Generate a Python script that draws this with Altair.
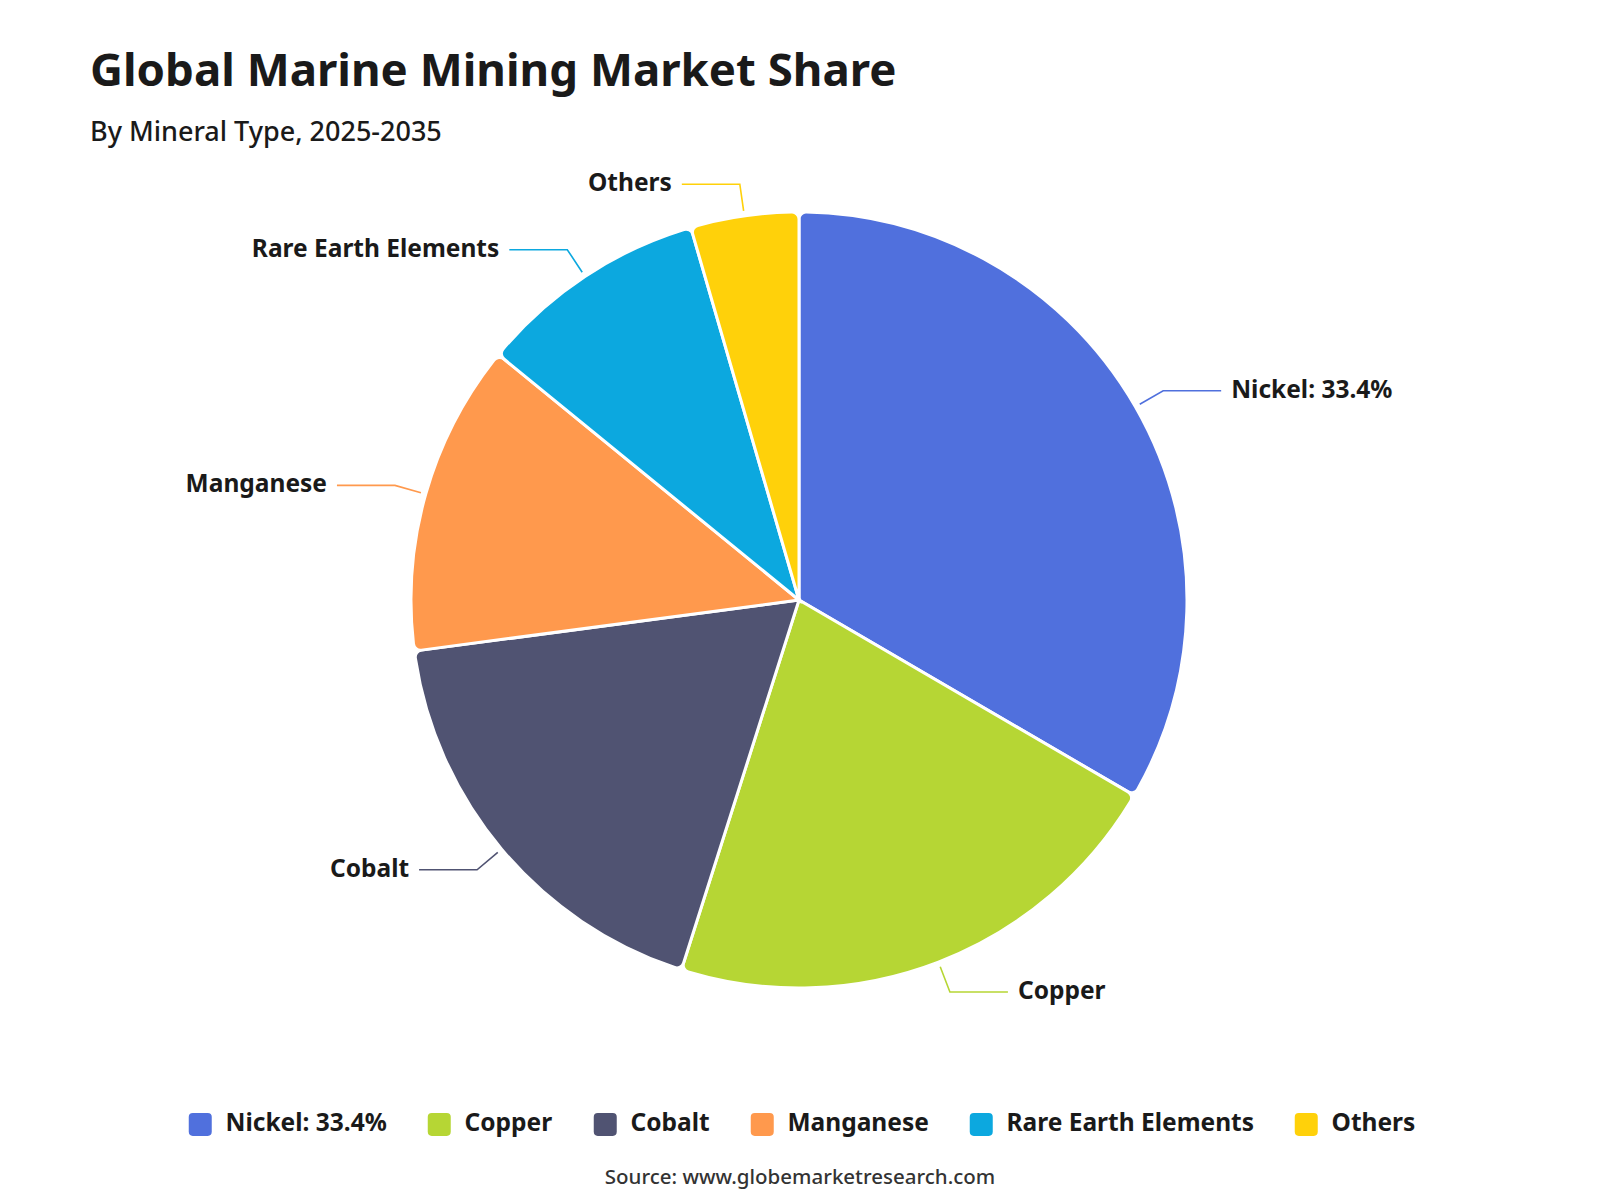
import altair as alt
import pandas as pd
import numpy as np

# ---------------- data ----------------
categories = ["Nickel: 33.4%", "Copper", "Cobalt", "Manganese", "Rare Earth Elements", "Others"]
shares = [33.4, 21.5, 18.0, 13.0, 9.6, 4.5]
colors = ["#5070dd", "#b6d634", "#505372", "#ff994d", "#0ca8df", "#ffd10a"]
title_text = "Global Marine Mining Market Share"
subtitle_text = "By Mineral Type, 2025-2035"
source_text = ["Source: www.globemarketresearch.com"]

# ---------------- layout ----------------
FONT = "Noto Sans"
W, H = 1600, 1200
PAD_TOP = 150
CX, CY = 799, 600 - PAD_TOP
R = 388
R_START, R_ELBOW = 393, 420
H_LEN, TXT_GAP = 58, 10
LABEL_SIZE = 24.5

df = pd.DataFrame({"category": categories, "share": shares, "idx": range(len(categories))})

# leader lines derived from the shares
total = sum(shares)
cum = np.cumsum([0] + shares)
rows, lab = [], []
for i, c in enumerate(categories):
    mid = (cum[i] + cum[i + 1]) / 2 / total * 2 * np.pi
    s, co = np.sin(mid), np.cos(mid)
    side = 1 if s >= 0 else -1
    x0, y0 = CX + R_START * s, CY - R_START * co
    x1, y1 = CX + R_ELBOW * s, CY - R_ELBOW * co
    x2, y2 = x1 + side * H_LEN, y1
    for p, (xx, yy) in enumerate([(x0, y0), (x1, y1), (x2, y2)]):
        rows.append({"category": c, "pt": p, "x": xx, "y": yy})
    lab.append({"category": c, "x": x2 + side * TXT_GAP, "y": y2,
                "align": "left" if side > 0 else "right"})
lines = pd.DataFrame(rows)
labels = pd.DataFrame(lab)

color_scale = alt.Scale(domain=categories, range=colors)
rounded_square = ("M -0.65 -1 L 0.65 -1 Q 1 -1 1 -0.65 L 1 0.65 Q 1 1 0.65 1 "
                  "L -0.65 1 Q -1 1 -1 0.65 L -1 -0.65 Q -1 -1 -0.65 -1 Z")

pie = alt.Chart(df).mark_arc(outerRadius=R, cornerRadius=7, stroke="white", strokeWidth=3).encode(
    theta=alt.Theta("share:Q", stack=True),
    order=alt.Order("idx:Q"),
    color=alt.Color("category:N", scale=color_scale, legend=alt.Legend(
        title=None, orient="none", direction="horizontal", columns=6,
        legendX=188, legendY=1112 - PAD_TOP,
        symbolType=rounded_square, symbolSize=529, symbolStrokeWidth=0,
        labelFont=FONT, labelFontSize=LABEL_SIZE, labelFontWeight="bold", labelColor="#1a1a1a",
        labelOffset=13, columnPadding=40, labelLimit=400)),
    x=alt.value(CX), y=alt.value(CY),
)

leader = alt.Chart(lines).mark_line(strokeWidth=1.6).encode(
    x=alt.X("x:Q", scale=None),
    y=alt.Y("y:Q", scale=None),
    detail="category:N",
    order="pt:Q",
    color=alt.Color("category:N", scale=color_scale, legend=None),
)

txt_left = alt.Chart(labels[labels["align"] == "left"]).mark_text(
    align="left", baseline="middle", font=FONT, fontSize=LABEL_SIZE, fontWeight="bold", color="#1a1a1a"
).encode(x=alt.X("x:Q", scale=None), y=alt.Y("y:Q", scale=None), text="category:N")

txt_right = alt.Chart(labels[labels["align"] == "right"]).mark_text(
    align="right", baseline="middle", font=FONT, fontSize=LABEL_SIZE, fontWeight="bold", color="#1a1a1a"
).encode(x=alt.X("x:Q", scale=None), y=alt.Y("y:Q", scale=None), text="category:N")

source = alt.Chart(pd.DataFrame({"t": source_text})).mark_text(
    align="center", baseline="middle", font=FONT, fontSize=20.5, fontWeight=500, color="#333333"
).encode(text="t:N", x=alt.value(800), y=alt.value(1178 - PAD_TOP))

chart = alt.layer(pie, leader, txt_left, txt_right, source).properties(
    width=W, height=H - PAD_TOP,
    background="white",
    autosize=alt.AutoSizeParams(type="none"),
    padding={"left": 0, "top": PAD_TOP, "right": 0, "bottom": 0},
    title=alt.TitleParams(
        text=title_text, subtitle=subtitle_text, anchor="start", frame="group",
        dx=90, offset=4, font=FONT, fontSize=45.6, fontWeight="bold", color="#1a1a1a",
        subtitleFont=FONT, subtitleFontSize=27, subtitleFontWeight=500,
        subtitleColor="#1a1a1a", subtitlePadding=24),
).configure_view(stroke=None, strokeWidth=0)

chart.save("out.html", embed_options={"renderer": "svg", "actions": False})
